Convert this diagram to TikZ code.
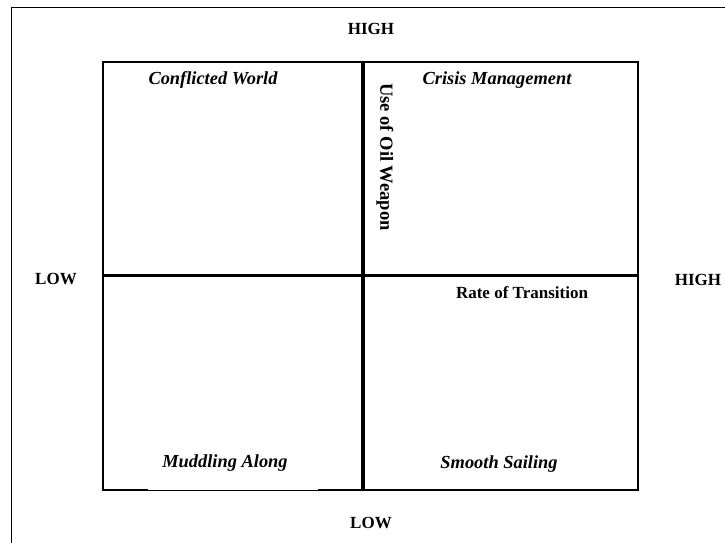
\documentclass[tikz,border=0pt]{standalone}
\usepackage{fontspec}
\setmainfont{Liberation Serif}
\begin{document}
\begin{tikzpicture}[x=1pt,y=-1pt,
  axislabel/.style={font=\fontsize{17}{20}\selectfont\bfseries, inner sep=0pt},
  quadlabel/.style={font=\fontsize{18.4}{21}\selectfont\bfseries\itshape, inner sep=0pt},
  boxline/.style={line width=2.5pt},
  divline/.style={line width=3.5pt}]
\useasboundingbox (0,0) rectangle (725,542);
\fill[white] (0,0) rectangle (725,542);
% outer frame
\draw[line width=1pt] (11,545) -- (11,7) -- (730,7);
% quadrant box
\coordinate (tl) at (103,62);
\coordinate (tr) at (638,62);
\coordinate (bl) at (103,490);
\coordinate (br) at (638,490);
\coordinate (vt) at (363,62);
\coordinate (vb) at (363,490);
\coordinate (hl) at (103,275);
\coordinate (hr) at (638,275);
\draw[boxline] (tl) -- (tr) -- (br) -- (bl) -- cycle;
\fill[white] (148,488.6) rectangle (318,489.8);
\draw[divline] (vt) -- (vb);
\draw[line width=3pt] (hl) -- (hr);
% axis labels
\node[axislabel] (hightop) at (371,29) {HIGH};
\node[axislabel] (lowbottom) at (371,523) {LOW};
\node[axislabel] (lowleft) at (56,279) {LOW};
\node[axislabel] (highright) at (698,280) {HIGH};
% quadrant labels
\node[quadlabel] (cw) at (213,80) {Conflicted World};
\node[quadlabel] (cm) at (497,80) {Crisis Management};
\node[quadlabel] (ma) at (225,463) {Muddling Along};
\node[quadlabel] (ss) at (499,464) {Smooth Sailing};
% axis titles
\node[axislabel, font=\fontsize{18.5}{21}\selectfont\bfseries, rotate=-90] (oil) at (385,157) {Use of Oil Weapon};
\node[axislabel] (rot) at (522,293) {Rate of Transition};
\end{tikzpicture}
\end{document}
